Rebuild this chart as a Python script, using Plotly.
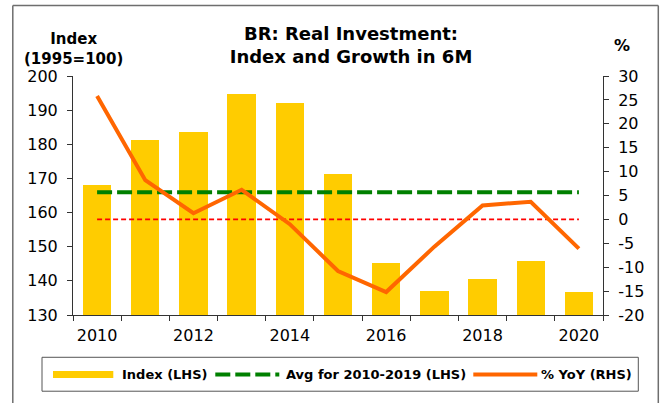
import plotly.graph_objects as go

# ---------------- data ----------------
years = [2010, 2011, 2012, 2013, 2014, 2015, 2016, 2017, 2018, 2019, 2020]
index_lhs = [168.0, 181.3, 183.5, 194.7, 192.0, 171.4, 145.3, 137.0, 140.6, 145.8, 136.8]
yoy_rhs = [25.8, 8.2, 1.3, 6.2, -1.0, -10.8, -15.2, -5.7, 2.9, 3.7, -6.1]
avg_years = [2010, 2020]
avg_value = sum(index_lhs[:10]) / 10.0
zero_line = [0, 0]
x_tick_vals = [2010, 2012, 2014, 2016, 2018, 2020]
x_tick_labels = ["2010", "2012", "2014", "2016", "2018", "2020"]
lhs_tick_vals = [130, 140, 150, 160, 170, 180, 190, 200]
lhs_tick_labels = ["130", "140", "150", "160", "170", "180", "190", "200"]
rhs_tick_vals = [-20, -15, -10, -5, 0, 5, 10, 15, 20, 25, 30]
rhs_tick_labels = ["-20", "-15", "-10", "-5", "0", "5", "10", "15", "20", "25", "30"]

title_text = "BR: Real Investment:<br>Index and Growth in 6M"
legend_labels = ["Index (LHS)", "Avg for 2010-2019 (LHS)", "% YoY (RHS)"]

# ---------------- layout geometry (pixels) ----------------
W, H = 662, 403
L, R, T, B = 72.7, 602.7, 75.7, 315.3
PW, PH = R - L, B - T


def px(x):
    return (x - L) / PW


def py(y):
    return (B - y) / PH


FONT = "DejaVu Sans"
YELLOW = "#FFCC00"
GREEN = "#008000"
ORANGE = "#FF6600"
RED = "#FF0000"
AXIS = "#333333"

fig = go.Figure()
fig.add_trace(go.Bar(x=years, y=index_lhs, marker=dict(color=YELLOW, line=dict(width=0)),
                     width=0.59, name=legend_labels[0], yaxis="y", showlegend=False))
fig.add_trace(go.Scatter(x=avg_years, y=[avg_value, avg_value], mode="lines",
                         line=dict(color=GREEN, width=4, dash="15px,5px"),
                         name=legend_labels[1], yaxis="y", showlegend=False))
fig.add_trace(go.Scatter(x=avg_years, y=zero_line, mode="lines",
                         line=dict(color=RED, width=1.6, dash="5px,3px"),
                         yaxis="y2", showlegend=False, hoverinfo="skip"))
fig.add_trace(go.Scatter(x=years, y=yoy_rhs, mode="lines",
                         line=dict(color=ORANGE, width=4),
                         name=legend_labels[2], yaxis="y2", showlegend=False))

tickfont = dict(family=FONT, size=16, color="black")

fig.update_layout(
    width=W, height=H,
    margin=dict(l=L, r=W - R, t=T, b=H - B, pad=0),
    paper_bgcolor="white", plot_bgcolor="white",
    showlegend=False,
    title=dict(text=title_text, x=351 / W, xanchor="center", y=1 - 39.5 / H, yanchor="middle",
               yref="container", xref="container",
               font=dict(family=FONT, size=18, color="black", weight="bold")),
    xaxis=dict(range=[2009.5, 2020.5], tickmode="array", tickvals=x_tick_vals, ticktext=x_tick_labels,
               ticks="", showline=True, linecolor=AXIS, linewidth=1, showgrid=False, zeroline=False,
               tickfont=tickfont, ticklabelstandoff=6,
               minor=dict(tickmode="linear", tick0=2009.5, dtick=1, ticks="outside", ticklen=5,
                          tickcolor=AXIS, tickwidth=1, showgrid=False)),
    yaxis=dict(range=[130, 200], tickmode="array", tickvals=lhs_tick_vals, ticktext=lhs_tick_labels,
               ticks="outside", ticklen=5,
               tickcolor=AXIS, showline=True, linecolor=AXIS, linewidth=1, showgrid=False,
               zeroline=False, tickfont=tickfont, ticklabelstandoff=6),
    yaxis2=dict(range=[-20, 30], tickmode="array", tickvals=rhs_tick_vals, ticktext=rhs_tick_labels,
                ticks="outside", ticklen=5,
                tickcolor=AXIS, showline=True, linecolor=AXIS, linewidth=1, showgrid=False,
                zeroline=False, tickfont=tickfont, overlaying="y", side="right", ticklabelstandoff=6),
    bargap=0,
)

annots = []
annots.append(dict(text="Index<br>(1995=100)", x=px(73.5), y=py(49), xref="paper", yref="paper",
                   xanchor="center", yanchor="middle", showarrow=False,
                   font=dict(family=FONT, size=15, color="black", weight="bold")))
annots.append(dict(text="%", x=px(621.7), y=py(45), xref="paper", yref="paper",
                   xanchor="center", yanchor="middle", showarrow=False,
                   font=dict(family=FONT, size=16, color="black", weight="bold")))

# manual legend
LEG_Y = 375
leg_font = dict(family=FONT, size=13, color="black", weight="bold")
for txt, xl in zip(legend_labels, [119.5, 284, 539]):
    annots.append(dict(text=txt, x=px(xl), y=py(LEG_Y), xref="paper", yref="paper",
                       xanchor="left", yanchor="middle", showarrow=False, font=leg_font))
fig.update_layout(annotations=annots)

shapes = []
# legend box
shapes.append(dict(type="rect", xref="paper", yref="paper", x0=px(41.7), x1=px(638), y0=py(357.7), y1=py(391.7),
                   line=dict(color="#555555", width=1), fillcolor="white", layer="below"))
shapes.append(dict(type="rect", xref="paper", yref="paper", x0=px(52.7), x1=px(113), y0=py(371.5), y1=py(378.5),
                   line=dict(width=0), fillcolor=YELLOW))
shapes.append(dict(type="line", xref="paper", yref="paper", x0=px(215), x1=px(279), y0=py(LEG_Y), y1=py(LEG_Y),
                   line=dict(color=GREEN, width=4, dash="15px,5px")))
shapes.append(dict(type="line", xref="paper", yref="paper", x0=px(473), x1=px(537), y0=py(LEG_Y), y1=py(LEG_Y),
                   line=dict(color=ORANGE, width=4)))
# outer frame (left, top, right)
FR_L, FR_T, FR_R, FR_B = 12.5, 5, 658, 410
for x0, y0, x1, y1 in [(FR_L, FR_T, FR_L, FR_B), (FR_L, FR_T, FR_R, FR_T), (FR_R, FR_T, FR_R, FR_B)]:
    shapes.append(dict(type="line", xref="paper", yref="paper", x0=px(x0), x1=px(x1), y0=py(y0), y1=py(y1),
                       line=dict(color="#6e6e6e", width=1.5)))
fig.update_layout(shapes=shapes)

fig.write_html("out.html", config={"displayModeBar": False},
               post_script="document.body.style.margin='0';document.body.style.overflow='hidden';")
